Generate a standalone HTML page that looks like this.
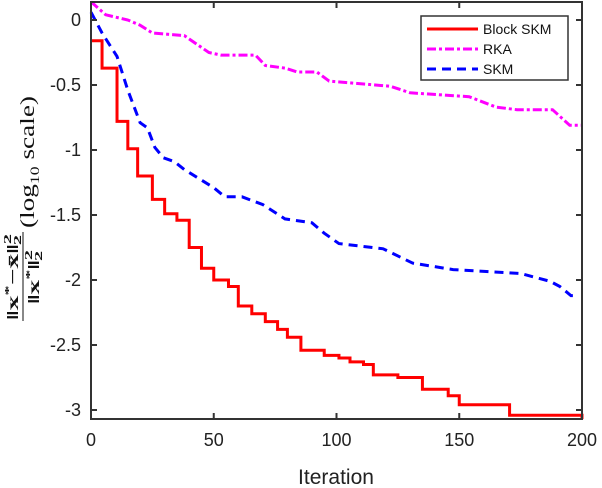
<!DOCTYPE html>
<html><head><meta charset="utf-8"><style>
body{margin:0;background:#fff}
svg{display:block;font-family:"Liberation Sans",sans-serif}
</style></head><body>
<svg id="chart" width="602" height="488" viewBox="0 0 602 488" xmlns="http://www.w3.org/2000/svg">
<rect width="602" height="488" fill="#fff"/>
<g id="series"></g>
<g id="axes"></g>
<g transform="rotate(-90)" fill="#111">
 <text x="-320" y="18" font-family="Liberation Serif,serif" font-size="16" font-weight="bold" textLength="86" lengthAdjust="spacingAndGlyphs">‖x<tspan font-size="11" dy="-6">*</tspan><tspan dy="6">−x̄‖</tspan><tspan font-size="11" dy="-7">2</tspan><tspan font-size="11" dy="10" dx="-6">2</tspan></text>
 <line x1="-321" y1="23" x2="-232" y2="23" stroke="#111" stroke-width="1"/>
 <text x="-304" y="39" font-family="Liberation Serif,serif" font-size="16" font-weight="bold" textLength="54" lengthAdjust="spacingAndGlyphs">‖x<tspan font-size="11" dy="-6">*</tspan><tspan dy="6">‖</tspan><tspan font-size="11" dy="-7">2</tspan><tspan font-size="11" dy="10" dx="-6">2</tspan></text>
 <text x="-228" y="34" font-family="Liberation Serif,serif" font-size="20" textLength="132" lengthAdjust="spacingAndGlyphs">(log<tspan font-size="13" dy="5">10</tspan><tspan dy="-5"> scale)</tspan></text>
</g>
<text x="336" y="484" text-anchor="middle" font-size="21" fill="#222">Iteration</text>
<g>
 <rect x="421" y="16" width="147" height="64" fill="#fff" stroke="#333" stroke-width="1.5"/>
 <g><line x1="427" y1="29" x2="478" y2="29" stroke="#f00" stroke-width="3"/><text x="483" y="34" font-size="14" fill="#111">Block SKM</text></g>
 <g><line x1="427" y1="49" x2="478" y2="49" stroke="#f0f" stroke-width="3" stroke-dasharray="9,3,3,3"/><text x="483" y="54" font-size="14" fill="#111">RKA</text></g>
 <g><line x1="427" y1="69" x2="478" y2="69" stroke="#00f" stroke-width="3" stroke-dasharray="9,6"/><text x="483" y="74" font-size="14" fill="#111">SKM</text></g>
</g>
</svg>
<script>
const xTicks=[0,50,100,150,200];
const yTicks=[0,-0.5,-1,-1.5,-2,-2.5,-3];
const yTickLabels=["0","-0.5","-1","-1.5","-2","-2.5","-3"];
const blockIter=[0,4.5,10.6,15,19,25,30,35,40,45,50,56,60,65.5,71,76,80,85.5,95,101,105.5,111,115,125,135,145.5,150,170.5,200];
const blockVals=[-0.16,-0.37,-0.78,-0.99,-1.2,-1.38,-1.49,-1.54,-1.75,-1.91,-2.0,-2.05,-2.2,-2.26,-2.32,-2.38,-2.44,-2.54,-2.58,-2.6,-2.63,-2.65,-2.73,-2.75,-2.84,-2.89,-2.96,-3.04,-3.07];
const rkaIter=[0,6,15,20,25,38,48,53,67,71,79,84,92,97,122,130,154,165,173.5,188,195,200];
const rkaVals=[0.14,0.04,0,-0.04,-0.1,-0.12,-0.25,-0.27,-0.27,-0.35,-0.37,-0.4,-0.4,-0.47,-0.51,-0.56,-0.59,-0.67,-0.69,-0.69,-0.81,-0.81];
const skmIter=[0,4.5,10.6,15,20,23,26,29.5,34,38,50,54.5,61.5,70,79,90,95,101,119,131,147.5,175,187,191,195.5,197.5];
const skmVals=[0.06,-0.1,-0.28,-0.54,-0.79,-0.83,-0.98,-1.06,-1.09,-1.15,-1.29,-1.36,-1.36,-1.42,-1.53,-1.56,-1.64,-1.72,-1.76,-1.87,-1.92,-1.95,-2.01,-2.05,-2.12,-2.12];
const X0=91,X1=582,YT=2,YB=419;
const xs=v=>X0+(v-0)/(200-0)*(X1-X0);
const ys=v=>20-v*130;
const NS="http://www.w3.org/2000/svg";
const ser=document.getElementById('series'),ax=document.getElementById('axes');
function mk(t,a,p){const e=document.createElementNS(NS,t);for(const k in a)e.setAttribute(k,a[k]);p.appendChild(e);return e;}
let d=`M${xs(blockIter[0])},${ys(blockVals[0])}`;
for(let i=1;i<blockIter.length;i++){d+=` H${xs(blockIter[i])} V${ys(blockVals[i])}`;}
const p1=mk('path',{d:d,fill:'none',stroke:'#f00','stroke-width':3},ser);


const line=(I,V)=>I.map((t,i)=>(i?'L':'M')+xs(t)+','+ys(V[i])).join(' ');
const p2=mk('path',{d:line(rkaIter,rkaVals),fill:'none',stroke:'#f0f','stroke-width':3,'stroke-dasharray':'9,3,3,3'},ser);


const p3=mk('path',{d:line(skmIter,skmVals),fill:'none',stroke:'#00f','stroke-width':3,'stroke-dasharray':'9,6'},ser);


const box=mk('rect',{x:X0,y:YT,width:X1-X0,height:YB-YT,fill:'none',stroke:'#333','stroke-width':2},ax);


xTicks.forEach(t=>{
 const x=xs(t);
 mk('line',{x1:x,y1:YB,x2:x,y2:YB-6,stroke:'#333','stroke-width':2},ax);
 mk('line',{x1:x,y1:YT,x2:x,y2:YT+6,stroke:'#333','stroke-width':2},ax);
 const tx=mk('text',{x:x,y:446,'text-anchor':'middle','font-size':18,fill:'#222'},ax);
 tx.textContent=t;
 
 
});
yTicks.forEach((t,i)=>{
 const y=ys(t);
 mk('line',{x1:X0,y1:y,x2:X0+6,y2:y,stroke:'#333','stroke-width':2},ax);
 mk('line',{x1:X1,y1:y,x2:X1-6,y2:y,stroke:'#333','stroke-width':2},ax);
 const tx=mk('text',{x:81,y:y+6,'text-anchor':'end','font-size':18,fill:'#222'},ax);
 tx.textContent=yTickLabels[i];
 
 
});
</script>
</body></html>
